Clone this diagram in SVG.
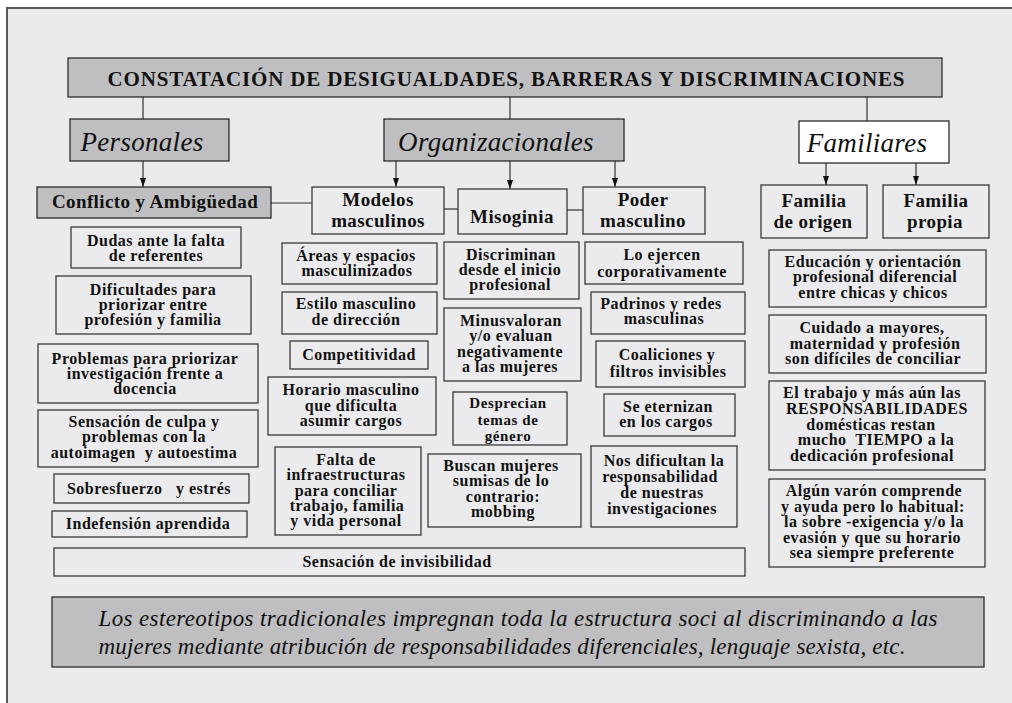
<svg xmlns="http://www.w3.org/2000/svg" width="1012" height="703" viewBox="0 0 1012 703">
<style>
.g{fill:#bfbfc1;stroke:#2b2b2b;stroke-width:1.3}
.b{fill:none;stroke:#3a3a3a;stroke-width:1.3}
.w{fill:#ffffff;stroke:#2b2b2b;stroke-width:1.3}
text{font-family:"Liberation Serif","Times New Roman",serif;fill:#111;text-anchor:middle}
.t{font-weight:bold;font-size:16px;letter-spacing:0.5px}
.ts{font-weight:bold;font-size:15px;letter-spacing:0.6px}
.h{font-weight:bold;font-size:19px;letter-spacing:0.4px}
.i{font-style:italic;font-size:27px;letter-spacing:0.3px}
.title{font-weight:bold;font-size:21px}
.bot{font-style:italic;font-size:23px}
.c{stroke:#333;stroke-width:1.2;fill:none}
</style>
<defs>
<marker id="arr" viewBox="0 0 10 10" refX="10" refY="5" markerWidth="9" markerHeight="6" markerUnits="userSpaceOnUse" orient="auto" preserveAspectRatio="none">
<path d="M0,0 L10,5 L0,10 z" fill="#111"/>
</marker>
</defs>
<rect x="0" y="0" width="1012" height="703" fill="#ffffff"/>
<rect x="7" y="8" width="1005" height="695" fill="#ebebed"/>
<path d="M7,703 V8 H1012" fill="none" stroke="#5a5a5a" stroke-width="2"/>

<g id="connectors">
<line class="c" x1="143" y1="97" x2="143" y2="119"/>
<line class="c" x1="510" y1="97" x2="510" y2="119"/>
<line class="c" x1="867" y1="97" x2="867" y2="121"/>
<line class="c" x1="143" y1="161" x2="143" y2="187" marker-end="url(#arr)"/>
<line class="c" x1="396" y1="161" x2="396" y2="187" marker-end="url(#arr)"/>
<line class="c" x1="510" y1="161" x2="510" y2="189" marker-end="url(#arr)"/>
<line class="c" x1="615" y1="161" x2="615" y2="187" marker-end="url(#arr)"/>
<line class="c" x1="826" y1="163" x2="826" y2="185" marker-end="url(#arr)"/>
<line class="c" x1="916" y1="163" x2="916" y2="185" marker-end="url(#arr)"/>
<line class="c" x1="271" y1="203" x2="312" y2="203"/>
<line class="c" x1="444" y1="209" x2="458" y2="209"/>
<line class="c" x1="567" y1="210" x2="583" y2="210"/>
</g>

<g id="title"><rect class="g" x="68" y="58" width="874" height="39"/>
<text class="title" x="506" y="86" textLength="797" lengthAdjust="spacing">CONSTATACIÓN DE DESIGUALDADES, BARRERAS Y DISCRIMINACIONES</text></g>

<g id="personales"><rect class="g" x="70" y="119" width="159" height="42"/>
<text class="i" x="142" y="151">Personales</text></g>
<g id="organizacionales"><rect class="g" x="384" y="119" width="240" height="42"/>
<text class="i" x="496" y="151">Organizacionales</text></g>
<g id="familiares"><rect class="w" x="799" y="121" width="150" height="42"/>
<text class="i" x="867" y="152">Familiares</text></g>

<g id="conflicto"><rect class="g" x="37" y="187" width="234" height="31"/>
<text class="h" x="155" y="208">Conflicto y Ambigüedad</text></g>
<g id="modelos"><rect class="b" x="312" y="187" width="132" height="47"/>
<text class="h"><tspan x="378" y="206">Modelos</tspan><tspan x="378" y="227">masculinos</tspan></text></g>
<g id="misoginia"><rect class="b" x="458" y="189" width="109" height="45"/>
<text class="h" x="512" y="223">Misoginia</text></g>
<g id="poder"><rect class="b" x="583" y="187" width="122" height="47"/>
<text class="h"><tspan x="643" y="206">Poder</tspan><tspan x="643" y="227">masculino</tspan></text></g>
<g id="familia-origen"><rect class="b" x="761" y="185" width="106" height="53"/>
<text class="h"><tspan x="814" y="207">Familia</tspan><tspan x="813" y="228">de origen</tspan></text></g>
<g id="familia-propia"><rect class="b" x="883" y="185" width="106" height="53"/>
<text class="h"><tspan x="936" y="207">Familia</tspan><tspan x="935" y="228">propia</tspan></text></g>

<g id="dudas"><rect class="b" x="71" y="227" width="170" height="41"/>
<text class="t"><tspan x="156" y="246">Dudas ante la falta</tspan><tspan x="156" y="261">de referentes</tspan></text></g>
<g id="dificultades"><rect class="b" x="56" y="276" width="195" height="58"/>
<text class="t"><tspan x="153" y="295">Dificultades para</tspan><tspan x="153" y="310">priorizar entre</tspan><tspan x="153" y="325">profesión y familia</tspan></text></g>
<g id="problemas"><rect class="b" x="38" y="344" width="220" height="59"/>
<text class="t"><tspan x="145" y="364">Problemas para priorizar</tspan><tspan x="145" y="379">investigación frente a</tspan><tspan x="145" y="394">docencia</tspan></text></g>
<g id="culpa"><rect class="b" x="38" y="410" width="220" height="57"/>
<text class="t" xml:space="preserve"><tspan x="144" y="427">Sensación de culpa y</tspan><tspan x="144" y="442">problemas con la</tspan><tspan x="144" y="458">autoimagen  y autoestima</tspan></text></g>
<g id="sobresfuerzo"><rect class="b" x="54" y="474" width="195" height="29"/>
<text class="t" x="149" y="494" xml:space="preserve">Sobresfuerzo   y estrés</text></g>
<g id="indefension"><rect class="b" x="52" y="511" width="195" height="26"/>
<text class="t" x="148" y="529">Indefensión aprendida</text></g>
<g id="invisibilidad"><rect class="b" x="54" y="548" width="691" height="28"/>
<text class="t" x="397" y="567">Sensación de invisibilidad</text></g>

<g id="areas"><rect class="b" x="282" y="243" width="155" height="41"/>
<text class="t"><tspan x="356" y="261">Áreas y espacios</tspan><tspan x="357" y="276">masculinizados</tspan></text></g>
<g id="estilo"><rect class="b" x="282" y="292" width="155" height="42"/>
<text class="t"><tspan x="356" y="309">Estilo masculino</tspan><tspan x="356" y="325">de dirección</tspan></text></g>
<g id="competitividad"><rect class="b" x="290" y="341" width="138" height="28"/>
<text class="t" x="359" y="360">Competitividad</text></g>
<g id="horario"><rect class="b" x="268" y="377" width="168" height="58"/>
<text class="t"><tspan x="351" y="395">Horario masculino</tspan><tspan x="351" y="411">que dificulta</tspan><tspan x="351" y="426">asumir cargos</tspan></text></g>
<g id="falta"><rect class="b" x="275" y="447" width="146" height="88"/>
<text class="t"><tspan x="346" y="465">Falta de</tspan><tspan x="346" y="480">infraestructuras</tspan><tspan x="346" y="496">para conciliar</tspan><tspan x="347" y="511">trabajo, familia</tspan><tspan x="346" y="526">y vida personal</tspan></text></g>

<g id="discriminan"><rect class="b" x="444" y="242" width="135" height="57"/>
<text class="t"><tspan x="511" y="260">Discriminan</tspan><tspan x="510" y="275">desde el inicio</tspan><tspan x="510" y="290">profesional</tspan></text></g>
<g id="minusvaloran"><rect class="b" x="444" y="308" width="137" height="73"/>
<text class="t"><tspan x="511" y="326">Minusvaloran</tspan><tspan x="511" y="341">y/o evaluan</tspan><tspan x="510" y="357">negativamente</tspan><tspan x="510" y="372">a las mujeres</tspan></text></g>
<g id="desprecian"><rect class="b" x="453" y="392" width="114" height="53"/>
<text class="ts"><tspan x="508" y="408">Desprecian</tspan><tspan x="508" y="425">temas de</tspan><tspan x="508" y="441">género</tspan></text></g>
<g id="buscan"><rect class="b" x="428" y="454" width="153" height="73"/>
<text class="t"><tspan x="501" y="471">Buscan mujeres</tspan><tspan x="501" y="486">sumisas de lo</tspan><tspan x="503" y="502">contrario:</tspan><tspan x="503" y="517">mobbing</tspan></text></g>

<g id="ejercen"><rect class="b" x="585" y="242" width="158" height="42"/>
<text class="t"><tspan x="662" y="260">Lo ejercen</tspan><tspan x="662" y="277">corporativamente</tspan></text></g>
<g id="padrinos"><rect class="b" x="591" y="292" width="154" height="42"/>
<text class="t"><tspan x="661" y="309">Padrinos y redes</tspan><tspan x="664" y="324">masculinas</tspan></text></g>
<g id="coaliciones"><rect class="b" x="596" y="341" width="149" height="46"/>
<text class="t"><tspan x="667" y="360">Coaliciones y</tspan><tspan x="668" y="377">filtros invisibles</tspan></text></g>
<g id="eternizan"><rect class="b" x="604" y="394" width="131" height="42"/>
<text class="t"><tspan x="668" y="412">Se eternizan</tspan><tspan x="666" y="427">en los cargos</tspan></text></g>
<g id="dificultan"><rect class="b" x="591" y="446" width="146" height="81"/>
<text class="t"><tspan x="664" y="466">Nos dificultan la</tspan><tspan x="660" y="482">responsabilidad</tspan><tspan x="662" y="498">de nuestras</tspan><tspan x="662" y="514">investigaciones</tspan></text></g>

<g id="educacion"><rect class="b" x="769" y="250" width="217" height="57"/>
<text class="t"><tspan x="873" y="267">Educación y orientación</tspan><tspan x="875" y="282">profesional diferencial</tspan><tspan x="873" y="298">entre chicas y chicos</tspan></text></g>
<g id="cuidado"><rect class="b" x="769" y="315" width="217" height="58"/>
<text class="t"><tspan x="872" y="333">Cuidado a mayores,</tspan><tspan x="875" y="349">maternidad y profesión</tspan><tspan x="873" y="364">son difíciles de conciliar</tspan></text></g>
<g id="trabajo"><rect class="b" x="769" y="381" width="216" height="89"/>
<text class="t" xml:space="preserve"><tspan x="872" y="398">El trabajo y más aún las</tspan><tspan x="877" y="414">RESPONSABILIDADES</tspan><tspan x="871" y="430">domésticas restan</tspan><tspan x="876" y="445">mucho  TIEMPO a la</tspan><tspan x="872" y="461">dedicación profesional</tspan></text></g>
<g id="algun"><rect class="b" x="769" y="479" width="216" height="88"/>
<text class="t" xml:space="preserve"><tspan x="874" y="496">Algún varón comprende</tspan><tspan x="873" y="512">y ayuda pero lo habitual:</tspan><tspan x="874" y="527">la sobre -exigencia y/o la</tspan><tspan x="872" y="543">evasión y que su horario</tspan><tspan x="872" y="558">sea siempre preferente</tspan></text></g>

<g id="estereotipos"><rect class="g" x="52" y="597" width="932" height="70"/>
<text class="bot"><tspan x="518" y="626" textLength="839" lengthAdjust="spacing">Los estereotipos tradicionales impregnan toda la estructura soci al discriminando a las</tspan><tspan x="502" y="654" textLength="807" lengthAdjust="spacing">mujeres mediante atribución de responsabilidades diferenciales, lenguaje sexista, etc.</tspan></text></g>
</svg>
